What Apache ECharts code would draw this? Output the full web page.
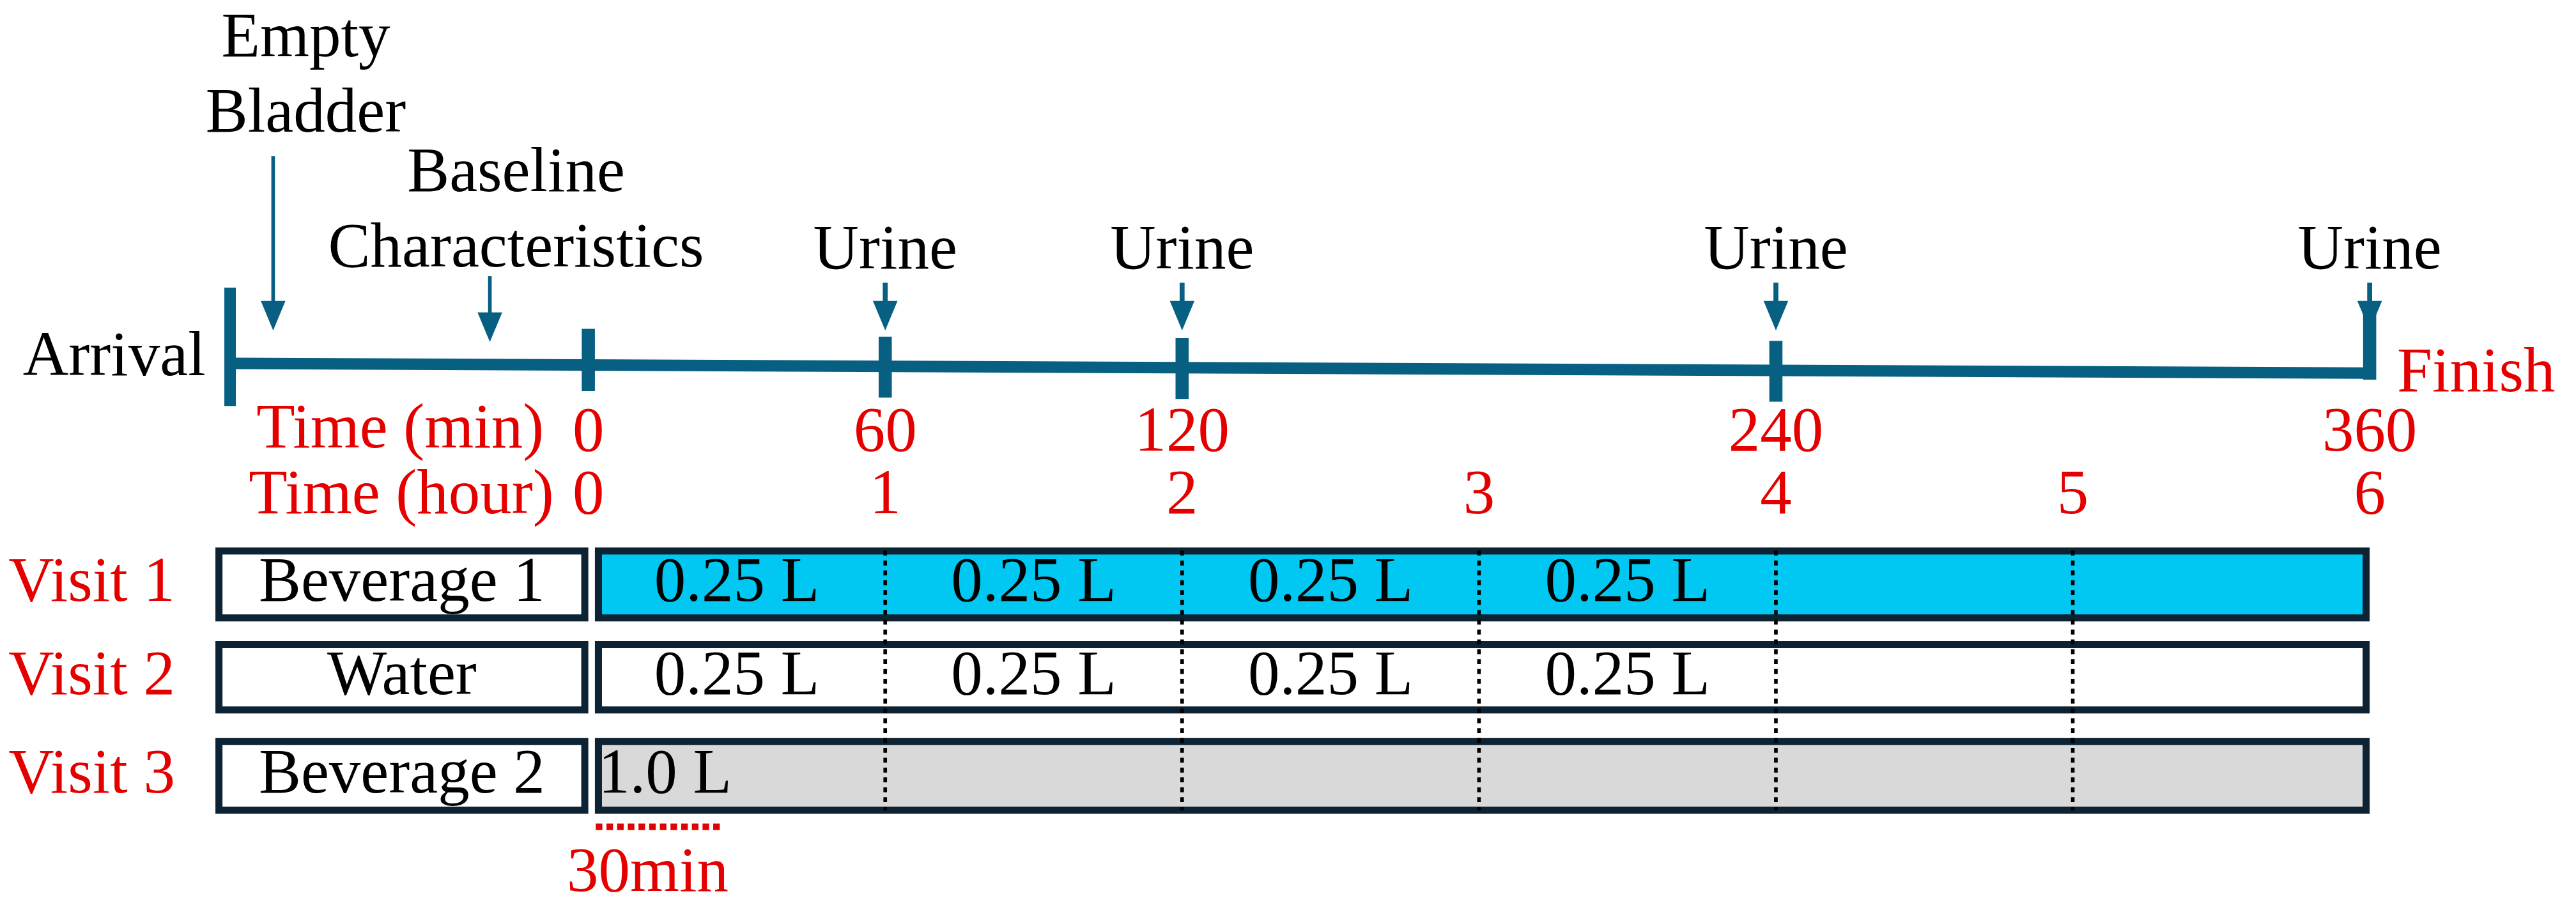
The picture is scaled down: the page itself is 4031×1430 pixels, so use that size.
<!DOCTYPE html>
<html><head><meta charset="utf-8">
<script src="https://cdn.jsdelivr.net/npm/echarts@6/dist/echarts.min.js"></script>
<style>html,body{margin:0;padding:0;background:#fff}#c{width:4031px;height:1430px}</style>
</head><body><div id="c"></div>
<script>
const urineTimes = [60, 120, 240, 360];
const minuteLabels = [0, 60, 120, 240, 360];
const hourTicks = [0, 1, 2, 3, 4, 5, 6];
const visitNames = ['Visit 1', 'Visit 2', 'Visit 3'];
const beverages = ['Beverage 1', 'Water', 'Beverage 2'];
const visit1Doses = [[0, 60, '0.25 L'], [60, 120, '0.25 L'], [120, 180, '0.25 L'], [180, 240, '0.25 L']];
const visit2Doses = [[0, 60, '0.25 L'], [60, 120, '0.25 L'], [120, 180, '0.25 L'], [180, 240, '0.25 L']];
const visit3Doses = [[0, 30, '1.0 L']];
const arrivalMin = -72.4, emptyBladderMin = -63.7, baselineMin = -19.9, endMin = 360;

const chart = echarts.init(document.getElementById('c'));
const W = 4031, k = W / 1568;
const FS = 38.5 * k;
const FONT = '"Liberation Serif", "DejaVu Serif", serif';
const TEAL = '#075f82', NAVY = '#0d2233', RED = '#e50000', CYAN = '#00c8f2', GREY = '#d9d9d9';
const dx = px => (px - 358) / 3.012; // display x -> minutes
const lineY = m => 221 + (m - arrivalMin) / (endMin - arrivalMin) * 6;

function renderItem(params, api) {
  const P = (m, y) => api.coord([m, y]);
  const ch = [];
  const text = (m, y, s, color, align) => {
    const p = P(m, y);
    ch.push({type: 'text', style: {x: p[0], y: p[1], text: s, fill: color || '#000', font: `${FS}px ${FONT}`, align: align || 'center', verticalAlign: 'middle'}});
  };
  const rect = (m0, y0, m1, y1, fill, stroke, lw) => {
    const a = P(m0, y0), b = P(m1, y1);
    ch.push({type: 'rect', shape: {x: a[0], y: a[1], width: b[0] - a[0], height: b[1] - a[1]}, style: {fill: fill || 'none', stroke: stroke || null, lineWidth: lw || 0}});
  };
  const line = (m0, y0, m1, y1, color, lw, dash) => {
    const a = P(m0, y0), b = P(m1, y1);
    ch.push({type: 'line', shape: {x1: a[0], y1: a[1], x2: b[0], y2: b[1]}, style: {stroke: color, lineWidth: lw, lineDash: dash || null}});
  };
  const arrow = (m, y0, y1, lw) => {
    const a = P(m, y0), b = P(m, y1);
    const hh = 18 * k, hw = 7.5 * k;
    ch.push({type: 'line', shape: {x1: a[0], y1: a[1], x2: b[0], y2: b[1] - hh + 2}, style: {stroke: TEAL, lineWidth: lw}});
    ch.push({type: 'polygon', shape: {points: [[b[0] - hw, b[1] - hh], [b[0] + hw, b[1] - hh], [b[0], b[1]]]}, style: {fill: TEAL}});
  };
  // timeline
  line(arrivalMin, lineY(arrivalMin), endMin, lineY(endMin), TEAL, 7 * k);
  const tick = (m, y0, y1, w) => { const a = P(m, y0), b = P(m, y1); ch.push({type: 'rect', shape: {x: a[0] - w * k / 2, y: a[1], width: w * k, height: b[1] - a[1]}, style: {fill: TEAL}}); };
  tick(arrivalMin, 175, 247, 7);
  tick(0, 200, 238, 8);
  urineTimes.slice(0, 3).forEach(t => tick(t, lineY(t) - 18, lineY(t) + 19, 8));
  tick(endMin, 191, 231, 8);
  // arrows
  arrow(emptyBladderMin, 95, 201, 2.2 * k);
  arrow(baselineMin, 168, 208, 2.2 * k);
  urineTimes.forEach(t => { arrow(t, 172, 201, 3 * k); text(t, 153, 'Urine'); });
  text(dx(186), 24, 'Empty'); text(dx(186), 70, 'Bladder');
  text(dx(314), 106, 'Baseline'); text(dx(314), 152, 'Characteristics');
  text(dx(125), 218, 'Arrival', '#000', 'right');
  text(dx(1459), 228, 'Finish', RED, 'left');
  // time labels
  text(dx(331), 262, 'Time (min)', RED, 'right');
  minuteLabels.forEach(t => text(t, 264, String(t), RED));
  text(dx(337), 302, 'Time (hour)', RED, 'right');
  hourTicks.forEach(h => text(h * 60, 302, String(h), RED));
  // rows
  const rows = [[333, 378], [390, 434], [449, 495]];
  const fills = [CYAN, '#fff', GREY];
  const doses = [visit1Doses, visit2Doses, visit3Doses];
  const L = dx(131), B = 4.3 * k;
  rows.forEach((r, i) => {
    const yc = (r[0] + r[1]) / 2;
    const bm = 2.15 / 3.012, bv = 2.15;
    rect(L + bm, r[0] + bv, dx(358) - bm, r[1] - bv, '#fff', NAVY, B);
    rect(dx(362) + bm, r[0] + bv, endMin - bm, r[1] - bv, fills[i], NAVY, B);
    text(dx(5), yc, visitNames[i], RED, 'left');
    text((L + dx(358)) / 2, yc, beverages[i]);
    doses[i].forEach(d => {
      if (i === 2) text(d[0] + 2, yc, d[2], '#000', 'left');
      else text((d[0] + d[1]) / 2, yc, d[2]);
    });
  });
  // dotted hour lines
  hourTicks.slice(1, 6).forEach(hh => line(hh * 60, 335, hh * 60, 493, '#000', 2.2 * k, [3 * k, 3 * k]));
  // 30 min marker
  line(visit3Doses[0][0] + 1.5, 503, visit3Doses[0][1] - 3, 503, RED, 4 * k, [4 * k, 2.5 * k]);
  text((visit3Doses[0][0] + visit3Doses[0][1]) / 2 - 3, 532, '30min', RED);
  return {type: 'group', children: ch};
}

chart.setOption({
  animation: false,
  grid: {left: 0, right: 0, top: 0, bottom: 0},
  xAxis: {type: 'value', min: -118.9, max: 401.7, show: false},
  yAxis: {type: 'value', min: 0, max: 556, inverse: true, show: false},
  series: [{type: 'custom', renderItem, data: [[0, 0]], clip: false}]
});
</script></body></html>
